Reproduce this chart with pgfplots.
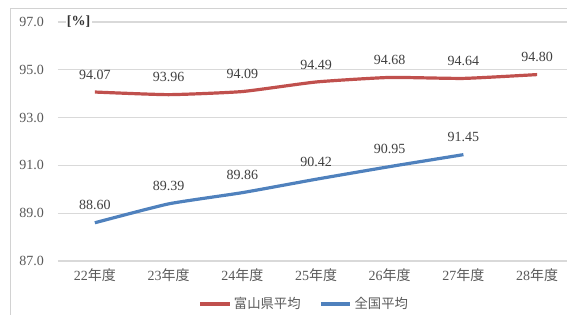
\documentclass[border=0pt]{standalone}
\usepackage{pgfplots}
\pgfplotsset{compat=1.18}
\usepackage{fontspec}
\setmainfont{Liberation Serif}
\newfontfamily\jp{Noto Sans CJK JP}
\definecolor{redl}{RGB}{192,80,77}
\definecolor{bluel}{RGB}{79,129,189}
\definecolor{tickg}{RGB}{89,89,89}
\definecolor{gridg}{RGB}{217,217,217}
\begin{document}
\begin{tikzpicture}
\path[use as bounding box, clip] (0,0) rectangle (425.25pt,235.5pt);
\draw[gray!35, line width=0.6pt] (7.5pt,229.5pt) rectangle (440pt,-10pt);
\begin{axis}[
  at={(43.5pt,39.75pt)}, anchor=south west,
  scale only axis, width=387pt, height=179.25pt,
  xmin=-0.5, xmax=6.5, ymin=87, ymax=97,
  xtick={0,...,6},
  xticklabels={{22\jp 年度},{23\jp 年度},{24\jp 年度},{25\jp 年度},{26\jp 年度},{27\jp 年度},{28\jp 年度}},
  ytick={87,89,91,93,95,97},
  yticklabel={\pgfmathprintnumber[fixed,fixed zerofill,precision=1]{\tick}},
  /pgf/number format/assume math mode=true,
  ticklabel style={font=\fontsize{10.5}{12}\selectfont, text=tickg},
  yticklabel style={xshift=-7pt},
  xticklabel style={yshift=-2pt},
  ymajorgrids, grid style={gridg, line width=0.8pt},
  axis line style={draw=none}, tick style={draw=none},
  nodes near coords,
  nodes near coords style={font=\fontsize{10.5}{12}\selectfont, text=black!75, anchor=south, yshift=5pt,
    /pgf/number format/.cd, fixed, fixed zerofill, precision=2},
  point meta=y,
  legend style={at={(0.478,-0.18)}, anchor=center, draw=none, fill=none,
    legend columns=2, font=\jp\fontsize{10}{11}\selectfont, text=tickg,
    /tikz/every even column/.append style={column sep=12pt}},
  legend image code/.code={\draw[#1, line width=2.5pt] (0pt,0pt) -- (22pt,0pt);},
  clip=false,
]
\addplot[redl, line width=2.4pt, smooth, tension=0.3, mark=none] coordinates {
(0,94.07) (1,93.96) (2,94.09) (3,94.49) (4,94.68) (5,94.64) (6,94.80)};
\addlegendentry{富山県平均}
\addplot[bluel, line width=2.4pt, smooth, tension=0.3, mark=none] coordinates {
(0,88.60) (1,89.39) (2,89.86) (3,90.42) (4,90.95) (5,91.45)};
\addlegendentry{全国平均}
\node[fill=white, inner sep=1pt, font=\bfseries\fontsize{10.5}{12}\selectfont, text=black!80] at (axis cs:-0.22,97) {[\%]};
\end{axis}
\end{tikzpicture}
\end{document}
